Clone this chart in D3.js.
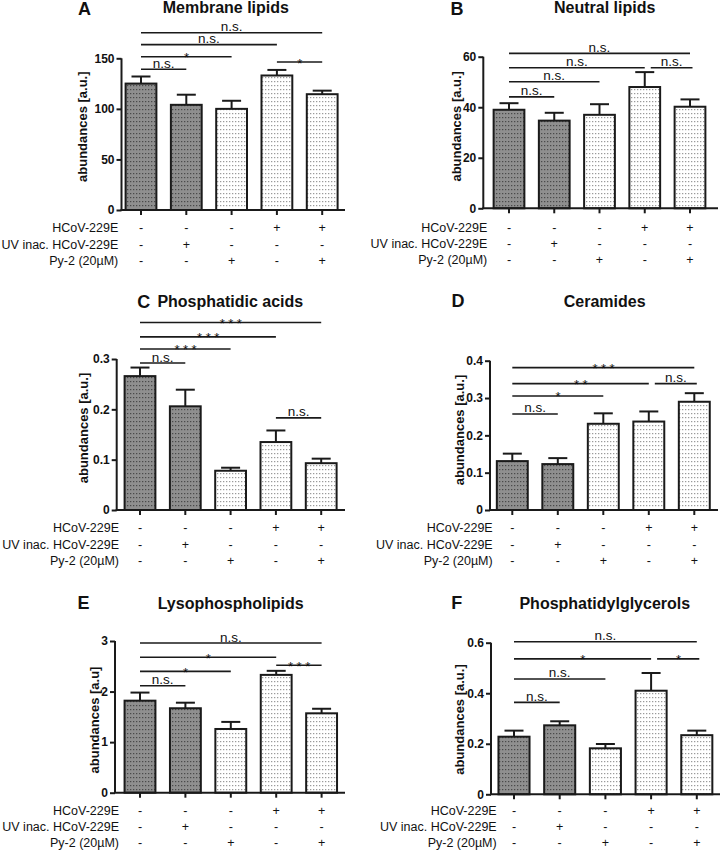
<!DOCTYPE html>
<html><head><meta charset="utf-8">
<script src="https://cdn.jsdelivr.net/npm/d3@7"></script>
<style>
body{margin:0;background:#fff}
svg text{font-family:"Liberation Sans",Arial,Helvetica,sans-serif;fill:#111}
</style>
</head><body>
<svg id="chart" width="720" height="852"></svg>
<script>
// ---------- data ----------
const groups = ["Mock", "UV inac.", "Py-2", "HCoV-229E", "HCoV-229E + Py-2"];
const conditionLabels = ["HCoV-229E", "UV inac. HCoV-229E", "Py-2 (20µM)"];
const conditionSigns = [
  ["-", "-", "-", "+", "+"],
  ["-", "+", "-", "-", "-"],
  ["-", "-", "+", "-", "+"]
];
const darkGroups = [true, true, false, false, false];

const panelLetters = ["A", "B", "C", "D", "E", "F"];
const panelTitles = ["Membrane lipids", "Neutral lipids", "Phosphatidic acids", "Ceramides", "Lysophospholipids", "Phosphatidylglycerols"];
const yAxisLabels = ["abundances [a.u.]", "abundances [a.u.]", "abundances [a.u.]", "abundances [a.u.]", "abundances [a.u]", "abundances [a.u.]"];

const yTicksA = [0, 50, 100, 150];
const yTicksB = [0, 20, 40, 60];
const yTicksC = [0, 0.1, 0.2, 0.3];
const yTicksD = [0, 0.1, 0.2, 0.3, 0.4];
const yTicksE = [0, 1, 2, 3];
const yTicksF = [0, 0.2, 0.4, 0.6];

const valuesA = [125, 104, 100, 133, 114.5];
const errorsA = [7, 10, 8, 5.5, 3.5];
const valuesB = [39, 34.7, 37, 48, 40.2];
const errorsB = [2.6, 3.1, 4.2, 5.9, 2.9];
const valuesC = [0.266, 0.206, 0.078, 0.135, 0.093];
const errorsC = [0.017, 0.033, 0.006, 0.023, 0.009];
const valuesD = [0.131, 0.123, 0.231, 0.237, 0.290];
const errorsD = [0.020, 0.016, 0.028, 0.027, 0.023];
const valuesE = [1.82, 1.67, 1.26, 2.33, 1.57];
const errorsE = [0.16, 0.11, 0.14, 0.08, 0.09];
const valuesF = [0.228, 0.273, 0.182, 0.410, 0.234];
const errorsF = [0.024, 0.016, 0.017, 0.070, 0.018];

// significance brackets: from group, to group, bracket level (in data units), label
const sigA = [[0, 4, 175.3, "n.s."], [0, 3, 163.5, "n.s."], [0, 2, 151.6, "*"], [0, 1, 139.1, "n.s."], [3, 4, 146.3, "*"]];
const sigB = [[0, 4, 61.3, "n.s."], [0, 3, 55.6, "n.s."], [3, 4, 55.6, "n.s."], [0, 2, 50.1, "n.s."], [0, 1, 44.1, "n.s."]];
const sigC = [[0, 4, 0.3724, "***"], [0, 3, 0.344, "***"], [0, 2, 0.320, "***"], [0, 1, 0.292, "n.s."], [3, 4, 0.183, "n.s."]];
const sigD = [[0, 4, 0.3815, "***"], [0, 3, 0.3386, "**"], [3, 4, 0.3386, "n.s."], [0, 2, 0.3056, "*"], [0, 1, 0.2574, "n.s."]];
const sigE = [[0, 4, 2.96, "n.s."], [0, 3, 2.68, "*"], [3, 4, 2.52, "***"], [0, 2, 2.40, "*"], [0, 1, 2.115, "n.s."]];
const sigF = [[0, 4, 0.604, "n.s."], [0, 3, 0.536, "*"], [3, 4, 0.536, "*"], [0, 2, 0.4566, "n.s."], [0, 1, 0.364, "n.s."]];

const panelTicks = [yTicksA, yTicksB, yTicksC, yTicksD, yTicksE, yTicksF];
const panelValues = [valuesA, valuesB, valuesC, valuesD, valuesE, valuesF];
const panelErrors = [errorsA, errorsB, errorsC, errorsD, errorsE, errorsF];
const panelSig = [sigA, sigB, sigC, sigD, sigE, sigF];

// ---------- layout ----------
const layout = [
  {ax:121.5, xEnd:345, y0:210,   yTop:58.3,  c0:141,   step:45.3,  tx:225.8, ty:12.7,  lx:84.5,  ly:15,    ylx:87.3,  yly:126.7, cr:118.3, cy:232.3},
  {ax:483.3, xEnd:718, y0:208.3, yTop:56.7,  c0:509,   step:45.25, tx:604.7, ty:12.7,  lx:457,   ly:15,    ylx:460.6, yly:126.3, cr:487.3, cy:231.7},
  {ax:116.7, xEnd:345, y0:510,   yTop:359,   c0:140,   step:45.3,  tx:230.3, ty:306.5, lx:143.7, ly:307.5, ylx:88,    yly:428,   cr:119,   cy:532.3},
  {ax:490,   xEnd:718, y0:510,   yTop:360.7, c0:512.3, step:45.5,  tx:604.7, ty:306.5, lx:458,   ly:307.3, ylx:464,   yly:430,   cr:492.7, cy:532.3},
  {ax:115,   xEnd:345, y0:792.7, yTop:641,   c0:140,   step:45.4,  tx:230.7, ty:609,   lx:83.5,  ly:609.3, ylx:99,    yly:720,   cr:119,   cy:814.7},
  {ax:491,   xEnd:720, y0:794.3, yTop:642.7, c0:514,   step:45.7,  tx:604.8, ty:608.5, lx:456.7, ly:609,   ylx:464,   yly:719.5, cr:496.7, cy:814.7}
];
const condRowGap = 16.3;

const svg = d3.select("#chart");
const defs = svg.append("defs");

// dotted fills
const pDark = defs.append("pattern").attr("id", "dotDark").attr("patternUnits", "userSpaceOnUse")
  .attr("width", 3).attr("height", 4);
pDark.append("rect").attr("width", 3).attr("height", 4).attr("fill", "#8f8f8f");
pDark.append("rect").attr("x", 1).attr("y", 1).attr("width", 1.3).attr("height", 1.2).attr("fill", "#4a4a4a");

const pLight = defs.append("pattern").attr("id", "dotLight").attr("patternUnits", "userSpaceOnUse")
  .attr("width", 3).attr("height", 4);
pLight.append("rect").attr("width", 3).attr("height", 4).attr("fill", "#ffffff");
pLight.append("rect").attr("x", 1).attr("y", 1).attr("width", 1.3).attr("height", 1.2).attr("fill", "#9a9a9a");

const fmt = v => (v === 0 ? "0" : String(v));

panelLetters.forEach((letter, i) => {
  const L = layout[i];
  const ticks = panelTicks[i];
  const yMax = ticks[ticks.length - 1];
  const vals = panelValues[i], errs = panelErrors[i], sig = panelSig[i];
  const g = svg.append("g");

  const x = d3.scaleBand().domain(groups)
    .range([L.c0 - L.step / 2, L.c0 + L.step * 4.5])
    .paddingInner(0.32).paddingOuter(0.16);
  const y = d3.scaleLinear().domain([0, yMax]).range([L.y0, L.yTop]);
  const cx = k => x(groups[k]) + x.bandwidth() / 2;

  // letter + title
  g.append("text").attr("x", L.lx).attr("y", L.ly).attr("text-anchor", "middle")
    .style("font-size", "18px").style("font-weight", "bold").text(letter);
  g.append("text").attr("x", L.tx).attr("y", L.ty).attr("text-anchor", "middle")
    .style("font-size", "16px").style("font-weight", "bold").text(panelTitles[i]);

  // y axis label
  g.append("text").attr("transform", `translate(${L.ylx},${L.yly}) rotate(-90)`)
    .attr("text-anchor", "middle").style("font-size", "13px").style("font-weight", "bold")
    .text(yAxisLabels[i]);

  // bars
  g.selectAll("rect.bar").data(vals).enter().append("rect")
    .attr("x", (d, k) => x(groups[k]))
    .attr("y", d => y(d))
    .attr("width", x.bandwidth())
    .attr("height", d => L.y0 - y(d))
    .attr("fill", (d, k) => darkGroups[k] ? "url(#dotDark)" : "url(#dotLight)")
    .attr("stroke", "#1a1a1a").attr("stroke-width", 2);

  // error bars
  vals.forEach((v, k) => {
    const c = cx(k);
    g.append("line").attr("x1", c).attr("x2", c).attr("y1", y(v)).attr("y2", y(v + errs[k]))
      .attr("stroke", "#1a1a1a").attr("stroke-width", 2);
    g.append("line").attr("x1", c - 9.5).attr("x2", c + 9.5).attr("y1", y(v + errs[k])).attr("y2", y(v + errs[k]))
      .attr("stroke", "#1a1a1a").attr("stroke-width", 2);
  });

  // y axis
  const yAxis = d3.axisLeft(y).tickValues(ticks).tickFormat(fmt).tickSize(5).tickPadding(2);
  const ya = g.append("g").attr("transform", `translate(${L.ax},0)`).call(yAxis);
  ya.select(".domain").attr("stroke", "#1a1a1a").attr("stroke-width", 2).attr("d", `M0,${L.y0}V${L.yTop}`);
  ya.selectAll(".tick line").attr("stroke", "#1a1a1a").attr("stroke-width", 2);
  ya.selectAll(".tick text").style("font-size", "12px").style("font-weight", "bold")
    .style("font-family", "'Liberation Sans',Arial,sans-serif").attr("fill", "#111");

  // x axis
  g.append("line").attr("x1", L.ax - 1).attr("x2", L.xEnd).attr("y1", L.y0).attr("y2", L.y0)
    .attr("stroke", "#1a1a1a").attr("stroke-width", 2);
  groups.forEach((gr, k) => {
    g.append("line").attr("x1", cx(k)).attr("x2", cx(k)).attr("y1", L.y0).attr("y2", L.y0 + 5)
      .attr("stroke", "#1a1a1a").attr("stroke-width", 2);
  });

  // condition table
  conditionLabels.forEach((lab, r) => {
    const yy = L.cy + r * condRowGap;
    g.append("text").attr("x", L.cr).attr("y", yy).attr("text-anchor", "end")
      .style("font-size", "12.5px").text(lab);
    conditionSigns[r].forEach((s, k) => {
      g.append("text").attr("x", cx(k)).attr("y", yy).attr("text-anchor", "middle")
        .style("font-size", "12.5px").text(s);
    });
  });

  // significance brackets
  sig.forEach(([a, b, lvl, lab]) => {
    const shared = sig.some(o => o !== undefined && o[1] === a && o[2] === lvl);
    const x1 = cx(a) + (shared ? 6 : 0);
    const x2 = cx(b) + (shared ? 2.5 : 0);
    const yy = y(lvl);
    g.append("line").attr("x1", x1).attr("x2", x2).attr("y1", yy).attr("y2", yy)
      .attr("stroke", "#1a1a1a").attr("stroke-width", 1.6);
    const isStar = lab.indexOf("*") === 0;
    const t = g.append("text").attr("text-anchor", "middle").text(lab);
    if (isStar) {
      t.attr("x", (x1 + x2) / 2 + 2).attr("y", yy + 5.5).style("font-size", "13px").style("letter-spacing", "3.5px");
    } else {
      t.attr("x", (x1 + x2) / 2).attr("y", yy - 1.5).style("font-size", "13.5px");
    }
  });
});
</script>
</body></html>
